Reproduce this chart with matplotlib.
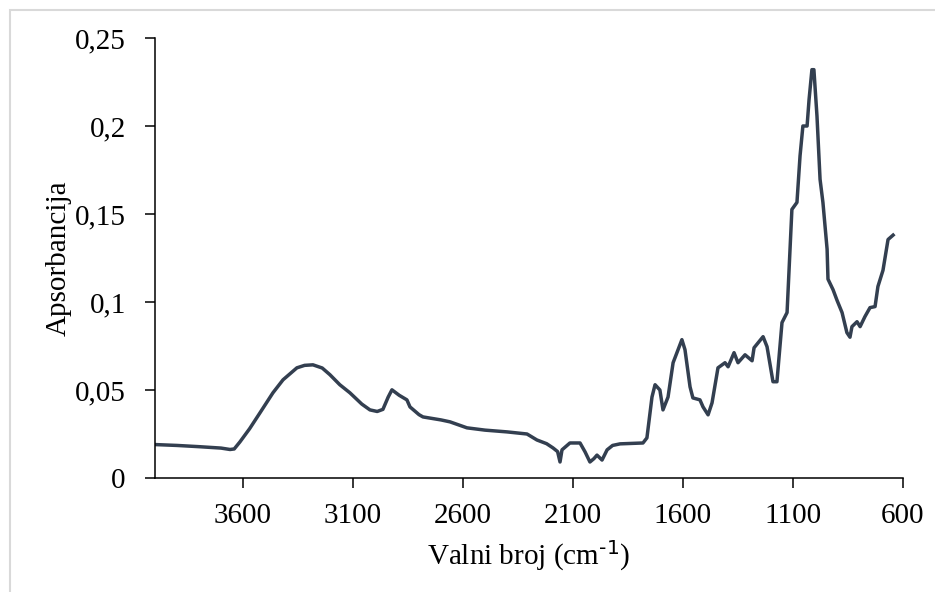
import matplotlib
matplotlib.use('agg')
import matplotlib.pyplot as plt
from matplotlib.ticker import FuncFormatter, MultipleLocator
from matplotlib.patches import Rectangle

plt.rcParams['font.family'] = ['Liberation Serif', 'DejaVu Serif']
plt.rcParams['mathtext.default'] = 'regular'

# IR spektar (ocitano sa slike)
wavenumber = [4000, 3900, 3800, 3700, 3659, 3640, 3614, 3570, 3523, 3464,
              3418, 3355, 3320, 3282, 3240, 3205, 3160, 3114, 3060, 3023,
              2990, 2964, 2940, 2923, 2890, 2855, 2841, 2800, 2782, 2700,
              2659, 2582, 2500, 2400, 2309, 2264, 2220, 2191, 2170, 2159,
              2150, 2114, 2068, 2045, 2023, 2005, 1991, 1968, 1945, 1920,
              1886, 1782, 1764, 1741, 1727, 1705, 1691, 1668, 1645, 1605,
              1591, 1568, 1555, 1523, 1509, 1486, 1468, 1441, 1409, 1395,
              1368, 1350, 1318, 1286, 1277, 1236, 1218, 1191, 1173, 1150,
              1127, 1105, 1082, 1068, 1055, 1036, 1027, 1014, 1005, 991,
              977, 964, 945, 941, 918, 900, 877, 855, 841, 832,
              809, 795, 773, 750, 727, 714, 691, 668, 645]
absorbance = [0.0190, 0.0185, 0.0178, 0.0170, 0.0162, 0.0165, 0.0205, 0.028, 0.037, 0.0484,
              0.0558, 0.0626, 0.0640, 0.0643, 0.0625, 0.0587, 0.053, 0.0484, 0.042, 0.0387,
              0.0378, 0.0390, 0.046, 0.0501, 0.047, 0.0444, 0.0404, 0.0360, 0.0347, 0.0330,
              0.0319, 0.0285, 0.0272, 0.0262, 0.0250, 0.0216, 0.0195, 0.0171, 0.0150, 0.0091,
              0.0160, 0.0199, 0.0199, 0.0148, 0.0091, 0.0110, 0.0130, 0.0102, 0.0160, 0.0185,
              0.0194, 0.0199, 0.0228, 0.046, 0.053, 0.050, 0.0387, 0.046, 0.0655, 0.0786,
              0.0729, 0.0518, 0.0455, 0.0444, 0.0404, 0.0359, 0.0427, 0.0626, 0.0655, 0.0632,
              0.0712, 0.0655, 0.0700, 0.0666, 0.0740, 0.0803, 0.0746, 0.0547, 0.0547, 0.0883,
              0.0940, 0.1526, 0.1566, 0.183, 0.200, 0.200, 0.215, 0.232, 0.232, 0.2056,
              0.1697, 0.1566, 0.130, 0.113, 0.107, 0.101, 0.094, 0.0826, 0.080, 0.086,
              0.0888, 0.086, 0.0917, 0.0968, 0.0974, 0.1088, 0.118, 0.1355, 0.138]

x_ticks = [3600, 3100, 2600, 2100, 1600, 1100, 600]


def comma_fmt(v, pos):
    s = f'{v:.2f}'.rstrip('0').rstrip('.')
    return s.replace('.', ',')


fig = plt.figure(figsize=(9.35, 5.92), dpi=100)
ax = fig.add_axes([155 / 935, 1 - 478 / 592, (903 - 155) / 935, (478 - 38) / 592])

ax.plot(wavenumber, absorbance, color='#333F50', lw=2.5, solid_joinstyle='round')

ax.set_xlim(4000, 600)
ax.set_ylim(0, 0.25)
ax.set_xticks(x_ticks)
ax.yaxis.set_major_locator(MultipleLocator(0.05))
ax.yaxis.set_major_formatter(FuncFormatter(comma_fmt))

for s in ['top', 'right']:
    ax.spines[s].set_visible(False)
for s in ['left', 'bottom']:
    ax.spines[s].set_linewidth(1.1)
    ax.spines[s].set_color('black')

ax.tick_params(axis='both', direction='out', length=7, width=1.1,
               labelsize=21, colors='black')
ax.tick_params(axis='y', pad=14)
ax.tick_params(axis='x', pad=11)

ax.set_xlabel('Valni broj (cm$^{\\text{-1}}$)', fontsize=21, labelpad=7)
ax.set_ylabel('Apsorbancija', fontsize=21, labelpad=2)

# okvir grafikona
fig.patches.append(Rectangle((10 / 935, -0.1), 1.2, 1 - 10 / 592 + 0.1,
                             transform=fig.transFigure, fill=False,
                             edgecolor='#D9D9D9', lw=1.5, zorder=0))

fig.savefig('out.png', dpi=100)
